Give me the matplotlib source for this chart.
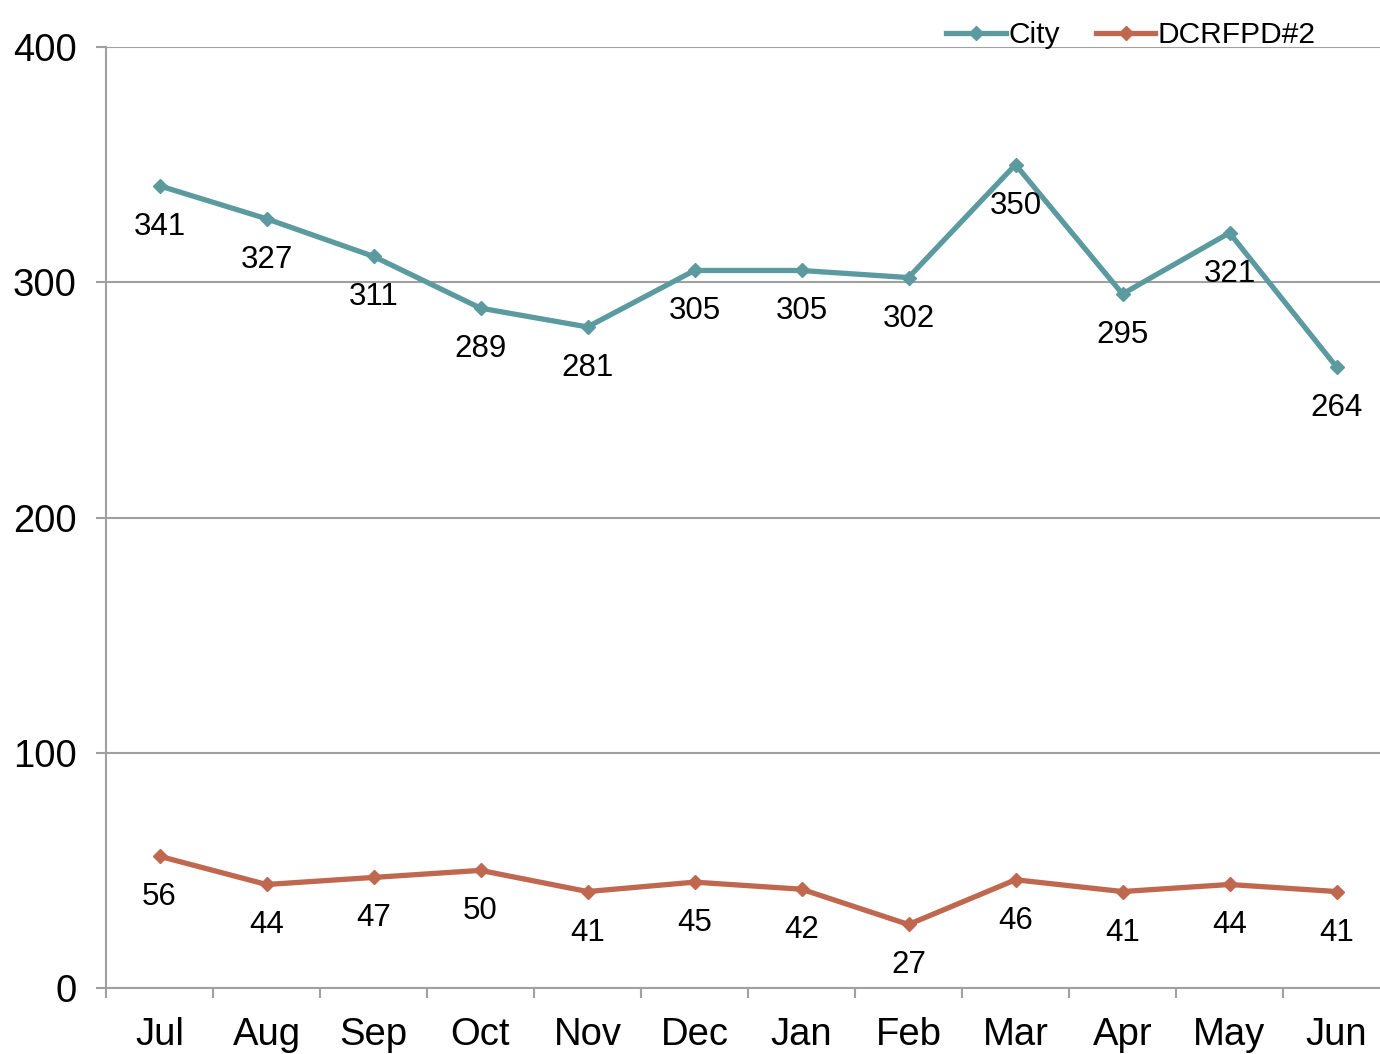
import matplotlib
matplotlib.use("Agg")
import matplotlib.pyplot as plt
import numpy as np

plt.rcParams['font.family'] = ['Liberation Sans', 'DejaVu Sans']

months = ['Jul', 'Aug', 'Sep', 'Oct', 'Nov', 'Dec', 'Jan', 'Feb', 'Mar', 'Apr', 'May', 'Jun']
city = [341, 327, 311, 289, 281, 305, 305, 302, 350, 295, 321, 264]
dcrfpd = [56, 44, 47, 50, 41, 45, 42, 27, 46, 41, 44, 41]

teal = '#5B9BA0'
rust = '#C0674F'
gray = '#A0A0A0'

fig = plt.figure(figsize=(13.8, 10.54), dpi=100)
ax = fig.add_axes([106 / 1380, 1 - 988 / 1054, 1284 / 1380, (988 - 47) / 1054])

x = np.arange(len(months))
ax.plot(x, city, color=teal, lw=3.8, marker='D', ms=7, label='City', zorder=3)
ax.plot(x, dcrfpd, color=rust, lw=3.8, marker='D', ms=7, label='DCRFPD#2', zorder=3)

# data labels sit just below each point
for xs, ys in [(x, city), (x, dcrfpd)]:
    for xi, yi in zip(xs, ys):
        ax.annotate(str(yi), (xi, yi), xytext=(0, -29.5), textcoords='offset points',
                    ha='center', va='center', fontsize=22.5)

ax.set_xlim(-0.5, len(months) - 0.5)
ax.set_ylim(0, 400)
ax.set_yticks([0, 100, 200, 300, 400])
ax.set_xticks(x)
ax.set_xticklabels(months)
ax.set_xticks(np.arange(-0.5, len(months), 1), minor=True)
ax.tick_params(axis='x', which='major', length=0, pad=21, labelsize=27.5)
ax.tick_params(axis='x', which='minor', length=7, width=1.5, color=gray, direction='out')
ax.tick_params(axis='y', length=7, width=1.5, color=gray, labelsize=27.5, pad=14)

ax.grid(axis='y', color=gray, lw=1.5)
ax.set_axisbelow(True)
for s in ['top', 'right']:
    ax.spines[s].set_visible(False)
for s in ['left', 'bottom']:
    ax.spines[s].set_color(gray)
    ax.spines[s].set_linewidth(1.5)

fig.legend(loc='center', bbox_to_anchor=(1131 / 1380, 1 - 35 / 1054), ncol=2, frameon=False,
           fontsize=21.5, handlelength=2.0, handletextpad=0.08, columnspacing=1.2)

fig.savefig('out.png', dpi=100)
